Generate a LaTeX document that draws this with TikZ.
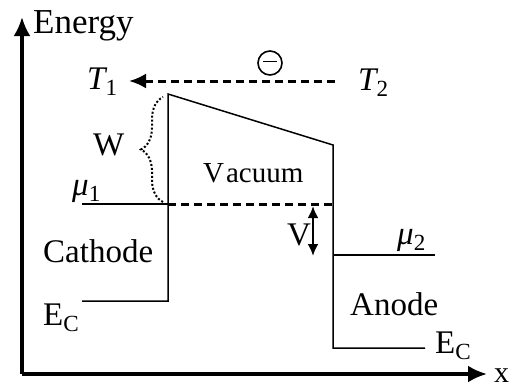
\documentclass[tikz,border=0pt]{standalone}
\usepackage{fontspec}
\setmainfont{Liberation Serif}
\usetikzlibrary{arrows.meta,decorations.pathreplacing}

\begin{document}
\begin{tikzpicture}[x=1pt,y=-1pt,
  lbl/.style={font=\fontsize{33}{36}\selectfont, inner sep=0pt, anchor=base west},
  band/.style={line width=1.5pt},
  dashline/.style={line width=3pt, dash pattern=on 8pt off 5pt},
  axis/.style={line width=3.4pt, -{Latex[length=19pt,width=17pt]}}]
\useasboundingbox (0,0) rectangle (512,388);
% axes
\coordinate (O) at (22,374);
\coordinate (ytop) at (22,17);
\coordinate (xend) at (487,374);
\draw[axis] (O) -- (ytop);
\draw[axis] (O) -- (xend);
\node[lbl, font=\fontsize{35}{38}\selectfont] (energy) at (33,33) {Energy};
\node[lbl, font=\fontsize{30}{33}\selectfont] (xlab) at (494,382) {x};
% band edges
  \coordinate (ec1l) at (82,301);
  \coordinate (ec1r) at (168,301);
  \coordinate (mu1l) at (82,204);
  \coordinate (mu1r) at (168,204);
  \coordinate (peak) at (168,94);
  \coordinate (vac2) at (333,145);
  \coordinate (mid2) at (333,204);
  \coordinate (mu2l) at (333,255);
  \coordinate (mu2r) at (435,255);
  \coordinate (ec2l) at (333,348);
  \coordinate (ec2r) at (425,348);
\draw[band] (ec1l) -- (ec1r) -- (peak) -- (vac2) -- (ec2l) -- (ec2r);
\draw[band] (mu1l) -- (mu1r);
\draw[band] (mu2l) -- (mu2r);
\draw[dashline] (mu1r) -- (mid2);
% electron from T2 to T1
\coordinate (t2end) at (335,81);
\coordinate (t1end) at (129,81);
\draw[dashline, -{Latex[length=17pt,width=15pt]}] (t2end) -- (t1end);
\node[circle, draw, line width=1.6pt, minimum size=24pt, inner sep=0pt] (elec) at (270,63) {\rule[3pt]{14pt}{1.6pt}};
\node[lbl] (t1) at (87,89) {\itshape T\textsubscript{\upshape 1}};
\node[lbl] (t2) at (358,90) {\itshape T\textsubscript{\upshape 2}};
% work function
\coordinate (wbot) at (163,202);
\coordinate (wtop) at (163,97);
\draw[line width=2pt, dotted, decorate, decoration={brace, amplitude=22pt}] (wbot) -- (wtop);
\node[lbl] (w) at (93,155) {W};
% contact voltage
\coordinate (vtop) at (313,206);
\coordinate (vbot) at (313,256);
\draw[line width=2.4pt, {Latex[length=12pt,width=11pt]}-{Latex[length=12pt,width=11pt]}] (vtop) -- (vbot);
\node[lbl] (v) at (287,245) {V};
% labels
\node[lbl] (mu1) at (72,195) {\itshape μ\textsubscript{\upshape 1}};
\node[lbl] (mu2) at (397,244) {\itshape μ\textsubscript{\upshape 2}};
\node[lbl] (cathode) at (43,262) {Cathode};
\node[lbl, font=\fontsize{29}{32}\selectfont] (vacuum) at (203,182) {V\hspace{2pt}acuum};
\node[lbl] (anode) at (350,315) {Anode};
\node[lbl] (ec1) at (43,325) {E\textsubscript{C}};
\node[lbl] (ec2) at (435,353) {E\textsubscript{C}};
\end{tikzpicture}
\end{document}
